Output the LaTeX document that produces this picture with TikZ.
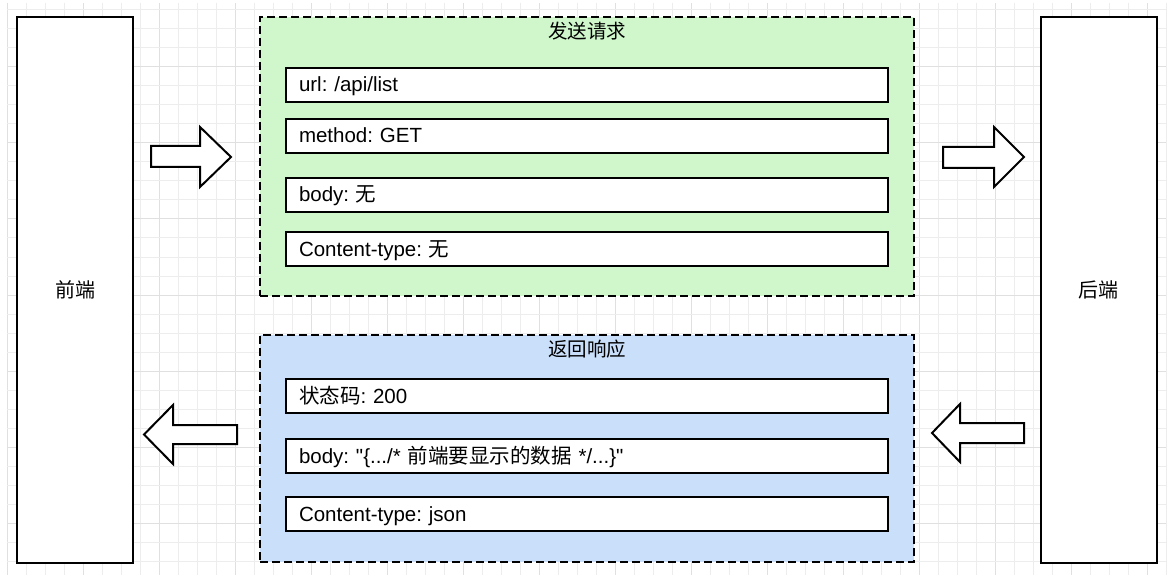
\documentclass[tikz,border=0pt]{standalone}
\usepackage{fontspec}
\setmainfont{Liberation Sans}[Ligatures=TeXOff]
\newfontfamily\cjk{Noto Sans CJK SC}
\frenchspacing
\begin{document}
\begin{tikzpicture}[x=1pt,y=-1pt,
  bigbox/.style={draw=black, line width=2pt, fill=white, minimum width=116pt, minimum height=546pt, inner sep=0pt, font=\fontsize{20}{24}\selectfont\cjk},
  group/.style={draw=black, line width=2pt, dash pattern=on 8pt off 4pt, minimum width=654pt, inner sep=0pt},
  rowbox/.style={draw=black, line width=2pt, fill=white, minimum width=602pt, minimum height=34pt, text width=576pt, inner xsep=13pt, inner ysep=0pt, align=left, text height=14pt, text depth=0pt, font=\fontsize{20.5}{24}\selectfont},
  title/.style={inner sep=0pt, font=\fontsize{19.5}{24}\selectfont\cjk},
  blockarrow/.style={draw=black, line width=2pt, fill=white, line join=miter},
  minorgrid/.style={draw=black!7, line width=1pt},
  majorgrid/.style={draw=black!12, line width=1pt}
]
\definecolor{reqgreen}{HTML}{CFF7CB}
\definecolor{respblue}{HTML}{CADFFA}
\useasboundingbox (0,0) rectangle (1170,588);
\fill[white] (0,0) rectangle (1170,588);
% grid
\foreach \k in {0,...,61} {
  \pgfmathtruncatemacro{\m}{mod(\k,4)}
  \ifnum\m=0 \draw[majorgrid] (7+19*\k,3) -- (7+19*\k,575);
  \else \draw[minorgrid] (7+19*\k,3) -- (7+19*\k,575); \fi
}
\foreach \k in {0,...,29} {
  \pgfmathtruncatemacro{\m}{mod(\k,4)}
  \ifnum\m=3 \draw[majorgrid] (7,10+19*\k) -- (1166,10+19*\k);
  \else \draw[minorgrid] (7,10+19*\k) -- (1166,10+19*\k); \fi
}
% side boxes
\node[bigbox] (fe) at (75,290) {前端};
\node[bigbox] (be) at (1098.5,290) {后端};
% request group
\node[group, fill=reqgreen, minimum height=279pt] (req) at (587,156.5) {};
\node[title] (reqt) at (587,31) {发送请求};
\node[rowbox] (r1) at (587,85) {url: /api/list};
\node[rowbox] (r2) at (587,136) {method: GET};
\node[rowbox] (r3) at (587,195) {body: {\cjk 无}};
\node[rowbox] (r4) at (587,249) {Content-type: {\cjk 无}};
% response group
\node[group, fill=respblue, minimum height=227pt] (resp) at (587,448.5) {};
\node[title] (respt) at (587,349) {返回响应};
\node[rowbox] (s1) at (587,396) {{\cjk 状态码}: 200};
\node[rowbox] (s2) at (587,456) {body: "\{.../* {\cjk 前端要显示的数据} */...\}"};
\node[rowbox] (s3) at (587,514) {Content-type: json};
% block arrows
\draw[blockarrow] (151,146) -- (200,146) -- (200,127) -- (231,157) -- (200,187) -- (200,167) -- (151,167) -- cycle;
\draw[blockarrow] (943,147) -- (994,147) -- (994,127) -- (1024,157) -- (994,187) -- (994,168) -- (943,168) -- cycle;
\draw[blockarrow] (237,425) -- (173,425) -- (173,405) -- (144,434.5) -- (173,464) -- (173,444) -- (237,444) -- cycle;
\draw[blockarrow] (1024,423) -- (960,423) -- (960,404) -- (932,433) -- (960,462) -- (960,443) -- (1024,443) -- cycle;
\end{tikzpicture}
\end{document}
